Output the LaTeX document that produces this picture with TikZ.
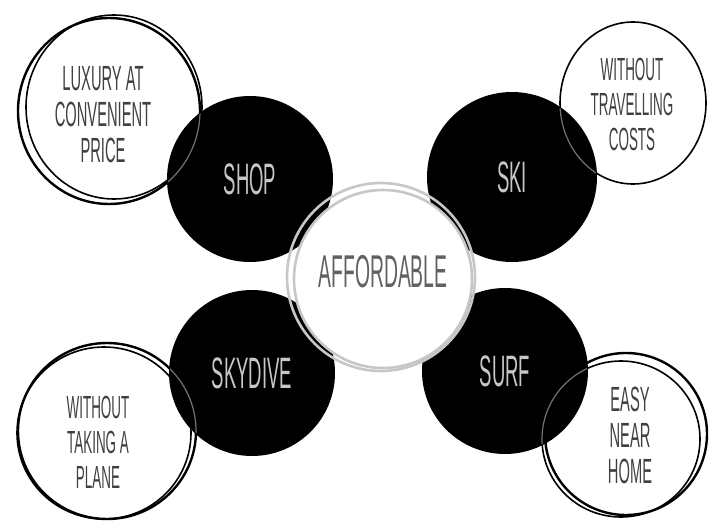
\documentclass[tikz,border=0pt]{standalone}
\usepackage{fontspec}
\newfontfamily\handfont{Liberation Sans}[FakeStretch=0.42]

\begin{document}
\begin{tikzpicture}[x=1pt,y=-1pt]
\tikzset{
  sketch/.style={draw=black, line width=2.4pt},
  sketchfin/.style={draw=black, line width=1.6pt},
  faint/.style={draw=black!55, line width=1.2pt},
  ringgray/.style={draw=black!22, line width=2.6pt},
  spot/.style={circle, fill=black, inner sep=0pt, minimum size=166pt, text=black!22, font=\handfont\fontsize{44}{44}\selectfont},
  motbulle/.style={align=center, text=black!75, font=\handfont\fontsize{32}{35}\selectfont},
  grosmot/.style={motbulle, font=\handfont\fontsize{35}{36}\selectfont},
}
\useasboundingbox (0,0) rectangle (710,522);

% outer bubbles
\node[grosmot] (luxe) at (103,115) {LUXURY AT\\CONVENIENT\\PRICE};
\node[motbulle] (voyage) at (632,104) {WITHOUT\\TRAVELLING\\COSTS};
\node[motbulle] (avion) at (98,442) {WITHOUT\\TAKING A\\PLANE};
\node[grosmot] (maison) at (630,435) {EASY\\NEAR\\HOME};

\draw[sketch] ([shift={(6,-4)}]luxe.center) ellipse [x radius=91, y radius=93];
\draw[sketchfin] ([shift={(11,-8)}]luxe.center) ellipse [x radius=88, y radius=92];
\draw[sketchfin] ([shift={(1,-1)}]voyage.center) ellipse [x radius=73, y radius=81];
\draw[sketch] ([shift={(9,-11)}]avion.center) ellipse [x radius=89, y radius=88];
\draw[sketchfin] ([shift={(6,-9)}]avion.center) ellipse [x radius=87, y radius=86];
\draw[sketch] ([shift={(-4,-1)}]maison.center) ellipse [x radius=81, y radius=81];
\draw[sketchfin] ([shift={(-9,4)}]maison.center) ellipse [x radius=79, y radius=78];

% black spots
\node[spot] (shop) at (250,179) {SHOP};
\node[spot, minimum size=170pt] (ski) at (512,177) {SKI};
\node[spot] (skydive) at (252,373) {SKYDIVE};
\node[spot] (surf) at (505,371) {SURF};

% traces of the bubbles over the spots
\begin{scope}
\clip (shop.center) circle [radius=82] (ski.center) circle [radius=84]
  (skydive.center) circle [radius=82] (surf.center) circle [radius=82];
\draw[faint] ([shift={(6,-4)}]luxe.center) ellipse [x radius=91, y radius=93];
\draw[faint] ([shift={(1,-1)}]voyage.center) ellipse [x radius=73, y radius=81];
\draw[faint] ([shift={(9,-11)}]avion.center) ellipse [x radius=89, y radius=88];
\draw[faint] ([shift={(-9,4)}]maison.center) ellipse [x radius=79, y radius=78];
\end{scope}

% centre
\node[circle, fill=white, ringgray, minimum size=178pt, inner sep=0pt, text depth=16pt,
  text=black!62, font=\handfont\fontsize{46}{46}\selectfont] (abordable) at (383,279) {AFFORDABLE};
\draw[ringgray] ([shift={(-2,-2)}]abordable.center) circle [radius=94];
\end{tikzpicture}
\end{document}
